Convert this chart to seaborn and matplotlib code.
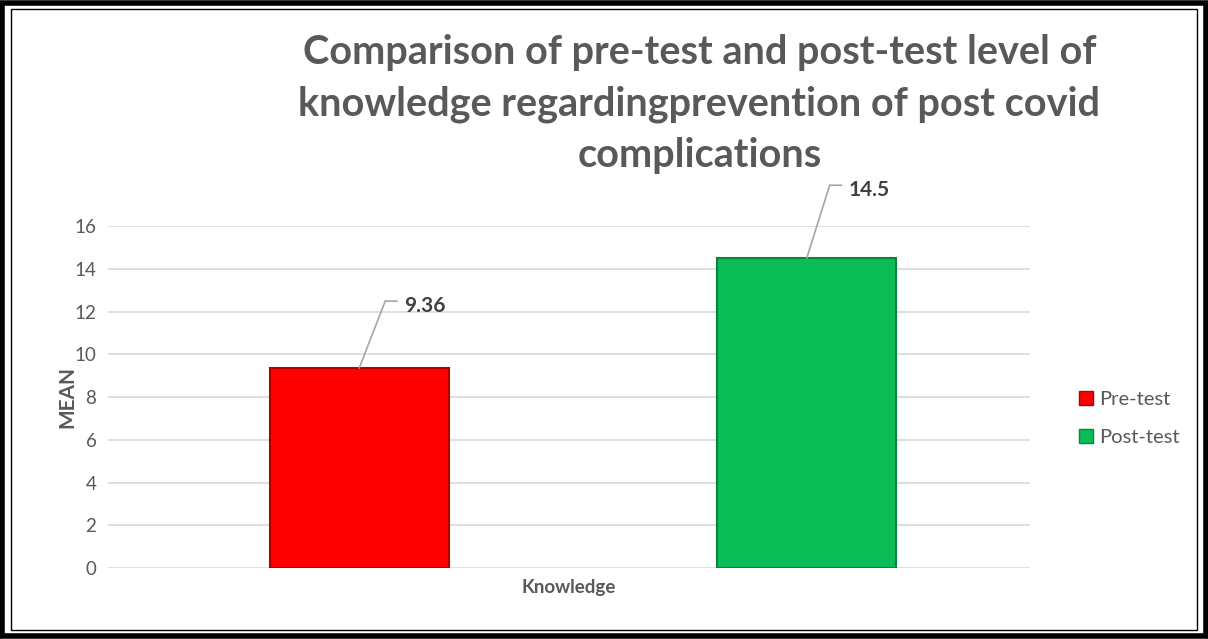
import matplotlib
matplotlib.use("Agg")
import matplotlib.pyplot as plt
import matplotlib.transforms as mtransforms
from matplotlib.patches import Rectangle, Patch
import pandas as pd
import seaborn as sns

# data
category = ["Knowledge"]
series = ["Pre-test", "Post-test"]
values = [9.36, 14.5]
label_text = ["9.36", "14.5"]
colors = ["#FF0000", "#0BBD57"]
edges = ["#B00000", "#07853C"]
yticks = [0, 2, 4, 6, 8, 10, 12, 14, 16]

df = pd.DataFrame({"cat": category * len(series), "series": series, "mean": values})

sns.set_style("white")
plt.rcParams["font.family"] = ["Lato", "DejaVu Sans"]
gray = "#595959"

fig = plt.figure(figsize=(12.08, 6.39), dpi=100)
ax = fig.add_axes([0.089, 0.111, 0.764, 0.535])

sns.barplot(data=df, x="cat", y="mean", hue="series", palette=colors,
            width=0.8, gap=0.6, ax=ax, legend=False, saturation=1)

for p, ec in zip(ax.patches, edges):
    p.set_edgecolor(ec)
    p.set_linewidth(1.5)
    p.set_zorder(3)

ax.set_xlim(-0.425, 0.40)
ax.set_ylim(0, 16)
ax.set_yticks(yticks)
ax.set_yticklabels([str(t) for t in yticks], color=gray, fontsize=13.5)
ax.yaxis.grid(True, color="#D9D9D9", linewidth=1.2)
ax.set_axisbelow(True)
ax.tick_params(axis="y", length=0, pad=8)
ax.set_xticks([])
for s in ax.spines.values():
    s.set_visible(False)

ax.set_xlabel("Knowledge", fontsize=13.5, fontweight="bold", color=gray, labelpad=8)
ax.set_ylabel("MEAN", fontsize=15, fontweight="bold", color=gray, labelpad=-2)

# data labels with leader lines (offsets in pixels)
offsets = [(26, 67), (23, 73)]
for p, txt, (dx, dy) in zip(ax.patches, label_text, offsets):
    x = p.get_x() + p.get_width() / 2
    h = p.get_height()
    t1 = ax.transData + mtransforms.ScaledTranslation(dx / 100, dy / 100, fig.dpi_scale_trans)
    ax.annotate("", xy=(x, h), xycoords="data",
                xytext=(dx * 0.72, dy * 0.72), textcoords="offset points",
                arrowprops=dict(arrowstyle="-", color="#A6A6A6", lw=1.2,
                                shrinkA=0, shrinkB=0))
    ax.annotate("", xy=(x, h), xycoords=t1,
                xytext=(12 * 0.72, 0), textcoords="offset points",
                arrowprops=dict(arrowstyle="-", color="#A6A6A6", lw=1.2,
                                shrinkA=0, shrinkB=0))
    ax.annotate(txt, xy=(x, h), xycoords=t1, xytext=(19 * 0.72, -5 * 0.72),
                textcoords="offset points", ha="left", va="center",
                fontsize=15, fontweight="bold", color="#404040")

handles = [Patch(facecolor=c, edgecolor=e, label=s) for c, e, s in zip(colors, edges, series)]
fig.legend(handles=handles, loc="center left", bbox_to_anchor=(0.878, 0.345),
           frameon=False, fontsize=14.5, labelcolor=gray, handlelength=0.7,
           handleheight=0.7, handletextpad=0.3, labelspacing=1.0)

fig.text(0.579, 0.947,
         "Comparison of pre-test and post-test level of\nknowledge regardingprevention of post covid\ncomplications",
         ha="center", va="top", fontsize=28.5, fontweight="bold", color=gray, linespacing=1.48)

# double border around the chart
fig.patches.append(Rectangle((0.002, 0.004), 0.996, 0.992, transform=fig.transFigure,
                             fill=False, edgecolor="black", linewidth=4))
fig.patches.append(Rectangle((0.009, 0.014), 0.982, 0.972, transform=fig.transFigure,
                             fill=False, edgecolor="black", linewidth=1))

fig.savefig("out.png", dpi=100)
